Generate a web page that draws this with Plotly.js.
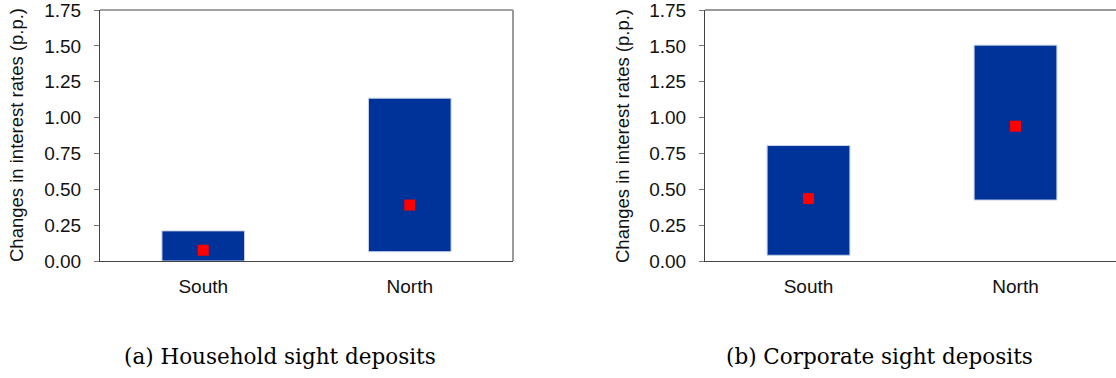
<!DOCTYPE html>
<html><head><meta charset="utf-8">
<script src="https://cdn.plot.ly/plotly-3.0.1.min.js"></script>
<style>html,body{margin:0;padding:0;background:#fff}#chart{width:1116px;height:378px}</style>
</head><body><div id="chart"></div>
<script>
const categories = ["South", "North"];
const houseLow = [0.00, 0.065];
const houseHigh = [0.21, 1.135];
const housePoint = [0.075, 0.39];
const corpLow = [0.04, 0.425];
const corpHigh = [0.805, 1.505];
const corpPoint = [0.435, 0.94];
const yTicks = [0, 0.25, 0.5, 0.75, 1.0, 1.25, 1.5, 1.75];
const yTickText = yTicks.map(v => v.toFixed(2));
const yTitle = "Changes in interest rates (p.p.)";
const captions = ["(a) Household sight deposits", "(b) Corporate sight deposits"];

const W = 1116, H = 378;
const barColor = "#003399";
const ptColor = "#ff0000";

function diff(a, b) { return a.map((v, i) => v - b[i]); }

const traces = [
  {type: "bar", x: categories, base: houseLow, y: diff(houseHigh, houseLow), width: 0.4,
   marker: {color: barColor, line: {color: "#c8d0e8", width: 1}}, xaxis: "x", yaxis: "y", hoverinfo: "skip"},
  {type: "scatter", mode: "markers", x: categories, y: housePoint,
   marker: {symbol: "square", size: 11, color: ptColor}, xaxis: "x", yaxis: "y"},
  {type: "bar", x: categories, base: corpLow, y: diff(corpHigh, corpLow), width: 0.4,
   marker: {color: barColor, line: {color: "#c8d0e8", width: 1}}, xaxis: "x2", yaxis: "y2", hoverinfo: "skip"},
  {type: "scatter", mode: "markers", x: categories, y: corpPoint,
   marker: {symbol: "square", size: 11, color: ptColor}, xaxis: "x2", yaxis: "y2"}
];

const tickFont = {family: "Liberation Sans, Arial, sans-serif", size: 19, color: "#111"};
const yDom = [(H - 261) / H, (H - 10) / H];
const x1Dom = [100 / W, 513 / W];
const x2Dom = [705 / W, 1];

function xAx(dom, rng) {
  return {domain: dom, range: rng, type: "category", showline: true, linecolor: "#444", linewidth: 1,
    ticks: "", tickfont: tickFont, showgrid: false, zeroline: false, fixedrange: true, ticklabelstandoff: 8};
}
function yAx(anchor) {
  return {domain: yDom, range: [0, 1.75], anchor: anchor, showline: true, linecolor: "#444", linewidth: 1,
    ticks: "outside", ticklen: 5, tickcolor: "#777", tickvals: yTicks, ticktext: yTickText,
    tickfont: tickFont, showgrid: false, zeroline: false, fixedrange: true, ticklabelstandoff: 9,
    ticklabeloverflow: "allow"};
}

const layout = {
  width: W, height: H, margin: {l: 0, r: 0, t: 0, b: 0}, showlegend: false,
  paper_bgcolor: "#fff", plot_bgcolor: "#fff",
  xaxis: xAx(x1Dom, [-0.5, 1.5]), yaxis: yAx("x"),
  xaxis2: Object.assign(xAx(x2Dom, [-0.5, -0.5 + 2 * (W - 705) / 414]), {anchor: "y2"}),
  yaxis2: yAx("x2"),
  shapes: [
    {type: "line", xref: "x domain", yref: "y domain", x0: 0, x1: 1, y0: 1, y1: 1, line: {color: "#444", width: 1}},
    {type: "line", xref: "x domain", yref: "y domain", x0: 1, x1: 1, y0: 0, y1: 1, line: {color: "#999", width: 2}},
    {type: "line", xref: "x2 domain", yref: "y2 domain", x0: 0, x1: 1, y0: 1, y1: 1, line: {color: "#999", width: 2}}
  ],
  annotations: [
    {text: yTitle, xref: "paper", yref: "paper", x: 17 / W, y: (H - 135) / H, textangle: -90, showarrow: false,
     xanchor: "center", yanchor: "middle",
     font: {family: "Liberation Sans, Arial, sans-serif", size: 18.5, color: "#111"}},
    {text: yTitle, xref: "paper", yref: "paper", x: 622 / W, y: (H - 136) / H, textangle: -90, showarrow: false,
     xanchor: "center", yanchor: "middle",
     font: {family: "Liberation Sans, Arial, sans-serif", size: 18.5, color: "#111"}},
    {text: captions[0], xref: "paper", yref: "paper", x: 280 / W, y: (H - 356) / H, showarrow: false,
     xanchor: "center", yanchor: "middle",
     font: {family: "DejaVu Serif, serif", size: 21.5, color: "#000"}},
    {text: captions[1], xref: "paper", yref: "paper", x: 879 / W, y: (H - 356) / H, showarrow: false,
     xanchor: "center", yanchor: "middle",
     font: {family: "DejaVu Serif, serif", size: 21.5, color: "#000"}}
  ]
};

Plotly.newPlot("chart", traces, layout, {displayModeBar: false, staticPlot: true});
</script></body></html>
